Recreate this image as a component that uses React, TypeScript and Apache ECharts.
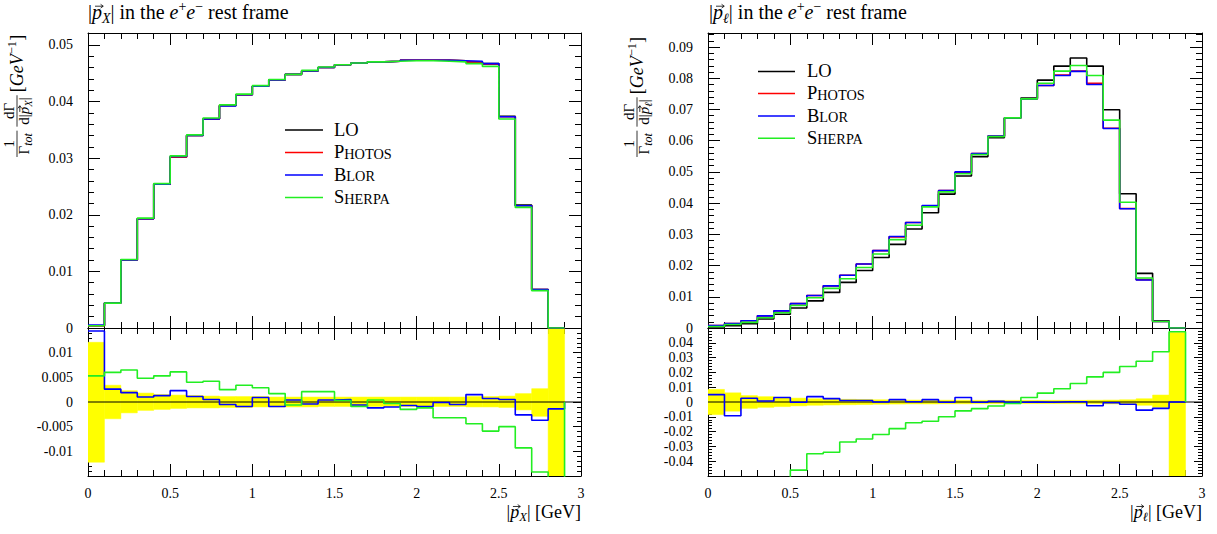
import React, { useEffect, useRef } from "react";
import * as echarts from "echarts";

// ---------- data ----------
const EDGES = [0, 0.1, 0.2, 0.3, 0.4, 0.5, 0.6, 0.7, 0.8, 0.9, 1.0, 1.1, 1.2, 1.3, 1.4, 1.5, 1.6, 1.7, 1.8, 1.9, 2.0, 2.1, 2.2, 2.3, 2.4, 2.5, 2.6, 2.7, 2.8, 2.9];

const SERIES_NAMES = ["LO", "PHOTOS", "BLOR", "SHERPA"];
// small-caps legend labels: [big initial, small-caps rest]
const LEGEND_LABELS = [["LO", ""], ["P", "HOTOS"], ["B", "LOR"], ["S", "HERPA"]];

// left panel: |p_X|
const LO_PX = [0.0004, 0.0044, 0.0120, 0.0193, 0.0254, 0.0302, 0.0340, 0.0369, 0.0393, 0.0412, 0.0427, 0.0438, 0.0448, 0.0454, 0.0460, 0.0465, 0.0468, 0.0470, 0.0471, 0.0473, 0.0473, 0.0473, 0.0472, 0.0470, 0.0467, 0.0374, 0.0217, 0.0068, 0];
const PHOTOS_PX = [0.0004, 0.0044, 0.0120, 0.0193, 0.0254, 0.0302, 0.0340, 0.0369, 0.0393, 0.0412, 0.0427, 0.0438, 0.0448, 0.0454, 0.0460, 0.0465, 0.0468, 0.0470, 0.0471, 0.0473, 0.0473, 0.0473, 0.0472, 0.0470, 0.0466, 0.0373, 0.0216, 0.0068, 0];
const BLOR_PX = [0.0005, 0.0044, 0.0120, 0.0193, 0.0254, 0.0303, 0.0340, 0.0369, 0.0392, 0.0412, 0.0427, 0.0438, 0.0448, 0.0454, 0.0460, 0.0465, 0.0468, 0.0470, 0.0471, 0.0473, 0.0473, 0.0473, 0.0472, 0.0471, 0.0467, 0.0373, 0.0216, 0.0068, 0];
const SHERPA_PX = [0.0004, 0.0044, 0.0121, 0.0194, 0.0255, 0.0304, 0.0341, 0.0371, 0.0394, 0.0413, 0.0428, 0.0439, 0.0448, 0.0455, 0.0461, 0.0465, 0.0468, 0.0470, 0.0471, 0.0472, 0.0472, 0.0471, 0.0470, 0.0467, 0.0462, 0.0369, 0.0213, 0.0066, 0];

const BLOR_RATIO_PX = [0.0144, 0.0026, 0.0019, 0.0010, 0.0013, 0.0023, 0.0011, 0.0005, -0.0005, -0.0009, 0.0009, -0.0009, 0.0004, -0.0004, 0.0004, 0.0005, -0.0006, -0.0012, -0.0010, -0.0007, -0.0009, -0.0001, -0.0005, 0.0015, 0.0007, 0.0005, -0.0026, -0.0037, -0.0014];
const SHERPA_RATIO_PX = [0.0053, 0.0060, 0.0065, 0.0048, 0.0053, 0.0061, 0.0040, 0.0042, 0.0025, 0.0034, 0.0029, 0.0017, -0.0006, 0.0021, 0.0021, 0.0003, -0.0009, 0.0004, -0.0003, -0.0015, -0.0012, -0.0032, -0.0032, -0.0044, -0.0059, -0.0050, -0.0093, -0.0142, -0.0300];
const BAND_HI_PX = [0.0121, 0.0034, 0.0023, 0.0018, 0.0015, 0.0014, 0.0013, 0.0012, 0.0011, 0.0011, 0.0011, 0.0010, 0.0010, 0.0010, 0.0010, 0.0010, 0.0010, 0.0010, 0.0010, 0.0010, 0.0010, 0.0010, 0.0010, 0.0011, 0.0011, 0.0012, 0.0017, 0.0027, 0.0150];
const BAND_LO_PX = [-0.0122, -0.0034, -0.0022, -0.0017, -0.0015, -0.0013, -0.0012, -0.0012, -0.0011, -0.0011, -0.0010, -0.0010, -0.0010, -0.0010, -0.0009, -0.0009, -0.0009, -0.0009, -0.0009, -0.0009, -0.0009, -0.0009, -0.0009, -0.0010, -0.0010, -0.0011, -0.0016, -0.0029, -0.0150];

// right panel: |p_l|
const LO_PL = [0.0003, 0.0007, 0.0014, 0.0029, 0.0044, 0.0064, 0.0087, 0.0114, 0.0146, 0.0184, 0.0226, 0.0268, 0.0317, 0.0369, 0.0429, 0.0487, 0.0549, 0.0610, 0.0673, 0.0737, 0.0794, 0.0839, 0.0865, 0.0839, 0.0699, 0.0430, 0.0175, 0.0023, 0];
const PHOTOS_PL = [0.0008, 0.0014, 0.0023, 0.0039, 0.0055, 0.0078, 0.0104, 0.0135, 0.0169, 0.0205, 0.0248, 0.0292, 0.0338, 0.0391, 0.0440, 0.0499, 0.0559, 0.0615, 0.0673, 0.0734, 0.0777, 0.0810, 0.0823, 0.0784, 0.0640, 0.0383, 0.0155, 0.0021, 0];
const BLOR_PL = [0.0008, 0.0014, 0.0023, 0.0039, 0.0055, 0.0078, 0.0104, 0.0135, 0.0169, 0.0205, 0.0248, 0.0293, 0.0338, 0.0392, 0.0440, 0.0500, 0.0559, 0.0615, 0.0673, 0.0734, 0.0777, 0.0809, 0.0822, 0.0780, 0.0639, 0.0382, 0.0154, 0.0021, 0];
const SHERPA_PL = [0.0005, 0.0011, 0.0018, 0.0033, 0.0049, 0.0072, 0.0097, 0.0127, 0.0158, 0.0194, 0.0237, 0.0283, 0.0329, 0.0388, 0.0436, 0.0494, 0.0556, 0.0613, 0.0673, 0.0734, 0.0784, 0.0823, 0.0841, 0.0809, 0.0666, 0.0403, 0.0160, 0.0021, 0];

const BLOR_RATIO_PL = [0.0050, -0.0093, 0.0025, 0.0007, 0.0030, -0.0002, 0.0036, 0.0023, 0.0010, 0.0010, 0.0000, 0.0016, 0.0002, 0.0016, -0.0002, 0.0030, -0.0002, 0.0004, -0.0002, 0.0000, -0.0002, 0.0002, 0.0002, -0.0025, -0.0005, -0.0015, -0.0055, -0.0043, 0.0000];
const SHERPA_RATIO_PL = [-0.120, -0.100, -0.085, -0.070, -0.058, -0.046, -0.035, -0.034, -0.027, -0.025, -0.022, -0.018, -0.014, -0.013, -0.010, -0.006, -0.0045, -0.0027, -0.001, 0.003, 0.006, 0.009, 0.0125, 0.017, 0.020, 0.024, 0.0275, 0.034, 0.0475];
const BAND_HI_PL = [0.0085, 0.0062, 0.0043, 0.0036, 0.0031, 0.0026, 0.0022, 0.0020, 0.0018, 0.0017, 0.0015, 0.0014, 0.0013, 0.0013, 0.0012, 0.0012, 0.0011, 0.0011, 0.0011, 0.0011, 0.0011, 0.0011, 0.0011, 0.0012, 0.0013, 0.0015, 0.0022, 0.0047, 0.0470];
const BAND_LO_PL = [-0.0085, -0.0062, -0.0043, -0.0036, -0.0031, -0.0026, -0.0022, -0.0020, -0.0018, -0.0017, -0.0015, -0.0014, -0.0013, -0.0013, -0.0012, -0.0012, -0.0011, -0.0011, -0.0011, -0.0011, -0.0011, -0.0011, -0.0011, -0.0012, -0.0013, -0.0015, -0.0022, -0.0036, -0.0500];

// axis ranges / ticks
const X_MIN = 0, X_MAX = 3, X_INTERVAL = 0.5;
const MAIN_PX_MAX = 0.0521, MAIN_PX_INTERVAL = 0.01;
const MAIN_PL_MAX = 0.0945, MAIN_PL_INTERVAL = 0.01;
const RATIO_PX_LIM = 0.015, RATIO_PX_INTERVAL = 0.005;
const RATIO_PL_LIM = 0.05, RATIO_PL_INTERVAL = 0.01;

// ---------- styling ----------
const FONT = "Liberation Serif";
const COLORS = ["#000000", "#ff0000", "#0000ff", "#22ee22"];
const YELLOW = "#ffff00";

// ---------- text composition helpers ----------
let measureCtx: CanvasRenderingContext2D | null = null;
function tw(t: string, size: number, italic: boolean) {
  if (!measureCtx) measureCtx = document.createElement("canvas").getContext("2d");
  if (!measureCtx) return t.length * size * 0.5;
  measureCtx.font = `${italic ? "italic " : ""}${size}px "${FONT}"`;
  return measureCtx.measureText(t).width;
}

type Piece = { t: string; s: number; it?: boolean; dy?: number; arrow?: boolean };

function compose(pieces: Piece[], x: number, baseline: number, align: "left" | "right" | "center") {
  const widths = pieces.map((p) => tw(p.t, p.s, !!p.it));
  const total = widths.reduce((a, b) => a + b, 0);
  let cx = align === "left" ? x : align === "right" ? x - total : x - total / 2;
  const els: any[] = [];
  pieces.forEach((p, k) => {
    const yb = baseline + (p.dy || 0);
    els.push({
      type: "text",
      x: cx,
      y: yb - 0.34 * p.s,
      style: {
        text: p.t,
        fontFamily: FONT,
        fontSize: p.s,
        fontStyle: p.it ? "italic" : "normal",
        fill: "#000",
        align: "left",
        verticalAlign: "middle",
      },
    });
    if (p.arrow) {
      const w = widths[k];
      const ay = yb - 0.64 * p.s;
      const x1 = cx + 0.3 * w;
      const x2 = cx + 1.12 * w;
      els.push({ type: "line", shape: { x1, y1: ay, x2, y2: ay }, style: { stroke: "#000", lineWidth: 0.8 } });
      els.push({
        type: "polyline",
        shape: { points: [[x2 - 2.6, ay - 1.9], [x2, ay], [x2 - 2.6, ay + 1.9]] },
        style: { stroke: "#000", lineWidth: 0.8, fill: null },
      });
    }
    cx += widths[k];
  });
  return { els, width: total };
}

function pVec(S: number, sub: string, subItalic: boolean): Piece[] {
  return [
    { t: "|", s: S },
    { t: "p", s: S, it: true, arrow: true },
    { t: sub, s: S * 0.7, it: subItalic, dy: S * 0.2 },
    { t: "|", s: S },
  ];
}

function titlePieces(sub: string): Piece[] {
  const S = 20;
  return [
    ...pVec(S, sub, true),
    { t: " in the ", s: S },
    { t: "e", s: S, it: true },
    { t: "+", s: S * 0.7, dy: -S * 0.38 },
    { t: "e", s: S, it: true },
    { t: "−", s: S * 0.7, dy: -S * 0.38 },
    { t: " rest frame", s: S },
  ];
}

function xNamePieces(sub: string): Piece[] {
  const S = 18;
  return [...pVec(S, sub, true), { t: " [GeV]", s: S }];
}

function yTitle(x0: number, y0: number, sub: string) {
  const f = 15; // fraction text size
  const children: any[] = [];
  // fraction 1: 1 / Gamma_tot
  const num1P: Piece[] = [{ t: "1", s: f }];
  const den1P: Piece[] = [{ t: "Γ", s: f }, { t: "tot", s: f * 0.8, it: true, dy: 3 }];
  const num1 = compose(num1P, 0, 0, "left");
  const den1 = compose(den1P, 0, 0, "left");
  const L1 = Math.max(num1.width, den1.width) + 5;
  children.push({ type: "line", shape: { x1: 0, y1: 0, x2: L1, y2: 0 }, style: { stroke: "#000", lineWidth: 0.8 } });
  children.push(...compose(num1P, L1 / 2, -3, "center").els);
  children.push(...compose(den1P, L1 / 2, 2.5 + 0.66 * f, "center").els);
  // fraction 2: dGamma / d|p_sub|
  const u2 = L1 + 4;
  const num2P: Piece[] = [{ t: "dΓ", s: f }];
  const den2P: Piece[] = [{ t: "d", s: f }, ...pVec(f, sub, true)];
  const num2 = compose(num2P, 0, 0, "left");
  const den2 = compose(den2P, 0, 0, "left");
  const L2 = Math.max(num2.width, den2.width) + 4;
  children.push({ type: "line", shape: { x1: u2, y1: 0, x2: u2 + L2, y2: 0 }, style: { stroke: "#000", lineWidth: 0.8 } });
  children.push(...compose(num2P, u2 + L2 / 2, -3, "center").els);
  children.push(...compose(den2P, u2 + L2 / 2, 2.5 + 0.66 * f, "center").els);
  // unit
  const B = 18;
  const u3 = u2 + L2 + 3;
  children.push(
    ...compose(
      [
        { t: "[", s: B },
        { t: "GeV", s: B, it: true },
        { t: "−1", s: B * 0.7, dy: -B * 0.38 },
        { t: "]", s: B },
      ],
      u3,
      6,
      "left"
    ).els
  );
  return { type: "group", x: x0, y: y0, rotation: Math.PI / 2, children };
}

function legend(lineX0: number, lineX1: number, textX: number, ys: number[]) {
  const out: any[] = [];
  ys.forEach((y, k) => {
    out.push({ type: "line", shape: { x1: lineX0, y1: y, x2: lineX1, y2: y }, style: { stroke: COLORS[k], lineWidth: 1.6 }, z: 10 });
    const [big, small] = LEGEND_LABELS[k];
    const pieces: Piece[] = [{ t: big, s: 18.5 }];
    if (small) pieces.push({ t: small, s: 14.3 });
    out.push({ type: "group", z: 10, children: compose(pieces, textX, y + 6, "left").els });
  });
  return out;
}

// ---------- chart helpers ----------
function stepData(vals: number[]) {
  const d = vals.map((v, i) => [EDGES[i], v]);
  d.push([EDGES[vals.length], 0]);
  return d;
}

function fmt(v: number, interval: number, lim: number) {
  const r = Math.round(v / interval);
  if (Math.abs(v - r * interval) > interval * 1e-6) return "";
  if (Math.abs(v) >= lim - interval * 1e-6) return "";
  const s = parseFloat(v.toFixed(5));
  return s === 0 ? "0" : String(s);
}

function xAxisPair(gridIndex: number, labels: boolean) {
  const base = {
    type: "value",
    gridIndex,
    min: X_MIN,
    max: X_MAX,
    interval: X_INTERVAL,
    axisLine: { show: true, onZero: false, lineStyle: { color: "#000", width: 1 } },
    axisTick: { show: true, inside: true, length: 12, lineStyle: { color: "#000", width: 1 } },
    minorTick: { show: true, splitNumber: 5, length: 6, lineStyle: { color: "#000", width: 1 } },
    splitLine: { show: false },
    minorSplitLine: { show: false },
  };
  return [
    {
      ...base,
      position: "bottom",
      axisLabel: {
        show: labels,
        fontFamily: FONT,
        fontSize: 14,
        color: "#000",
        margin: 10,
        formatter: (v: number) => fmt(v, X_INTERVAL, 99),
      },
    },
    { ...base, position: "top", axisLabel: { show: false } },
  ];
}

function yAxisPair(gridIndex: number, min: number, max: number, interval: number, hideLim: number, major: number, minor: number) {
  const base = {
    type: "value",
    gridIndex,
    min,
    max,
    interval,
    axisLine: { show: true, onZero: false, lineStyle: { color: "#000", width: 1 } },
    axisTick: { show: true, inside: true, length: major, lineStyle: { color: "#000", width: 1 } },
    minorTick: { show: true, splitNumber: 5, length: minor, lineStyle: { color: "#000", width: 1 } },
    splitLine: { show: false },
    minorSplitLine: { show: false },
  };
  return [
    {
      ...base,
      position: "left",
      axisLabel: {
        show: true,
        fontFamily: FONT,
        fontSize: 14,
        color: "#000",
        margin: 15,
        formatter: (v: number) => fmt(v, interval, hideLim),
      },
    },
    { ...base, position: "right", axisLabel: { show: false } },
  ];
}

function mainSeries(axis: number, sets: number[][]) {
  return sets.map((vals, k) => ({
    name: SERIES_NAMES[k],
    type: "line",
    xAxisIndex: axis,
    yAxisIndex: axis,
    step: "end",
    symbol: "none",
    showSymbol: false,
    clip: true,
    lineStyle: { color: COLORS[k], width: 1.6 },
    itemStyle: { color: COLORS[k] },
    data: stepData(vals),
    z: 3 + k,
  }));
}

function ratioSeries(axis: number, bandLo: number[], bandHi: number[], blor: number[], sherpa: number[]) {
  return [
    {
      type: "custom",
      xAxisIndex: axis,
      yAxisIndex: axis,
      clip: true,
      silent: true,
      z: 1,
      encode: { x: [0, 1], y: [2, 3] },
      data: bandLo.map((lo, i) => [EDGES[i], i + 1 < EDGES.length ? EDGES[i + 1] : X_MAX, lo, bandHi[i]]),
      renderItem: (params: any, api: any) => {
        const p0 = api.coord([api.value(0), api.value(3)]);
        const p1 = api.coord([api.value(1), api.value(2)]);
        return {
          type: "rect",
          shape: { x: p0[0], y: p0[1], width: p1[0] - p0[0], height: p1[1] - p0[1] },
          style: { fill: YELLOW, stroke: YELLOW, lineWidth: 0.5 },
        };
      },
    },
    {
      type: "line",
      xAxisIndex: axis,
      yAxisIndex: axis,
      symbol: "none",
      lineStyle: { color: "#000", width: 1.2 },
      data: [[X_MIN, 0], [X_MAX, 0]],
      z: 3,
    },
    {
      name: "BLOR",
      type: "line",
      xAxisIndex: axis,
      yAxisIndex: axis,
      step: "end",
      symbol: "none",
      clip: true,
      lineStyle: { color: COLORS[2], width: 1.6 },
      data: stepData(blor),
      z: 4,
    },
    {
      name: "SHERPA",
      type: "line",
      xAxisIndex: axis,
      yAxisIndex: axis,
      step: "end",
      symbol: "none",
      clip: true,
      lineStyle: { color: COLORS[3], width: 1.6 },
      data: stepData(sherpa),
      z: 5,
    },
  ];
}

export default function App() {
  const ref = useRef<HTMLDivElement>(null);

  useEffect(() => {
    if (!ref.current) return;
    const chart = echarts.init(ref.current, null, { renderer: "svg" });

    const option: any = {
      animation: false,
      backgroundColor: "#ffffff",
      grid: [
        { left: 88, top: 33, width: 493, height: 295 },
        { left: 88, top: 328, width: 493, height: 148 },
        { left: 708, top: 33, width: 494, height: 295 },
        { left: 708, top: 328, width: 494, height: 148 },
      ],
      xAxis: [...xAxisPair(0, false), ...xAxisPair(1, true), ...xAxisPair(2, false), ...xAxisPair(3, true)],
      yAxis: [
        ...yAxisPair(0, 0, MAIN_PX_MAX, MAIN_PX_INTERVAL, 99, 12, 6),
        ...yAxisPair(1, -RATIO_PX_LIM, RATIO_PX_LIM, RATIO_PX_INTERVAL, RATIO_PX_LIM, 8, 4),
        ...yAxisPair(2, 0, MAIN_PL_MAX, MAIN_PL_INTERVAL, 99, 12, 6),
        ...yAxisPair(3, -RATIO_PL_LIM, RATIO_PL_LIM, RATIO_PL_INTERVAL, RATIO_PL_LIM, 8, 4),
      ],
      series: [
        ...mainSeries(0, [LO_PX, PHOTOS_PX, BLOR_PX, SHERPA_PX]),
        ...ratioSeries(2, BAND_LO_PX, BAND_HI_PX, BLOR_RATIO_PX, SHERPA_RATIO_PX),
        ...mainSeries(4, [LO_PL, PHOTOS_PL, BLOR_PL, SHERPA_PL]),
        ...ratioSeries(6, BAND_LO_PL, BAND_HI_PL, BLOR_RATIO_PL, SHERPA_RATIO_PL),
      ],
      graphic: [
        { type: "group", children: compose(titlePieces("X"), 88, 19, "left").els },
        { type: "group", children: compose(titlePieces("ℓ"), 709, 19, "left").els },
        { type: "group", children: compose(xNamePieces("X"), 581, 518, "right").els },
        { type: "group", children: compose(xNamePieces("ℓ"), 1202, 518, "right").els },
        yTitle(17, 157, "X"),
        yTitle(637, 157, "ℓ"),
        ...legend(285, 323, 334, [130, 152.5, 175, 197.5]),
        ...legend(758, 795, 807, [71.5, 93.5, 116, 138.3]),
      ],
    };

    chart.setOption(option);
    return () => chart.dispose();
  }, []);

  return <div ref={ref} style={{ position: "absolute", left: 0, top: 0, width: 1217, height: 534 }} />;
}
